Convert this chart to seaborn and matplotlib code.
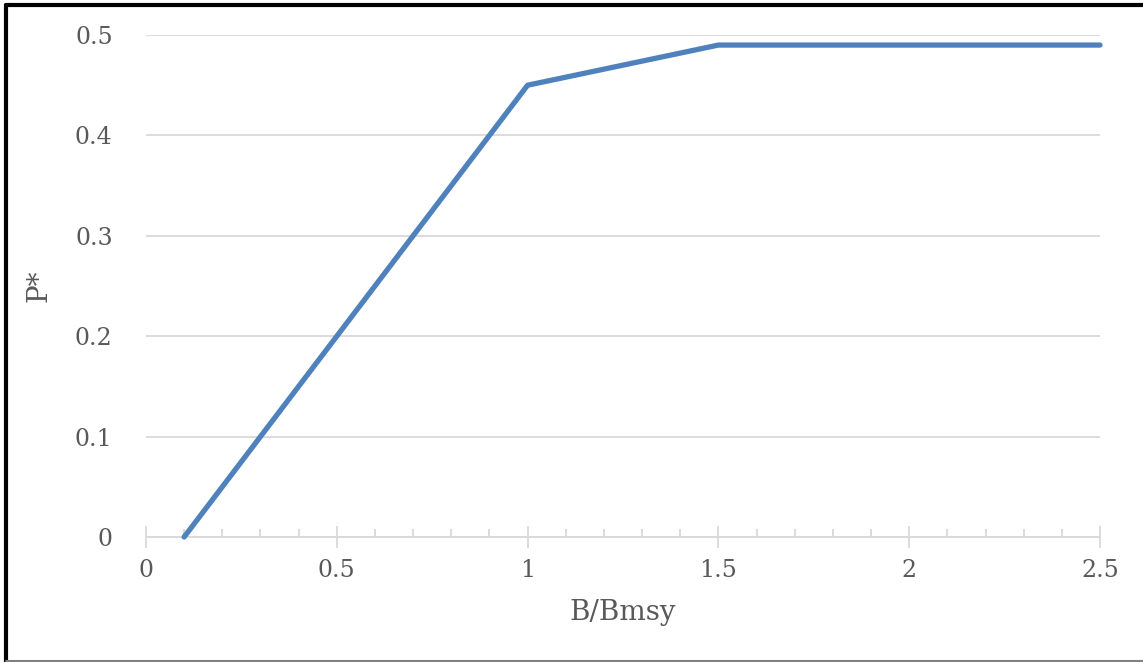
import matplotlib
matplotlib.use('Agg')
import matplotlib.pyplot as plt
import seaborn as sns
import pandas as pd
from matplotlib.ticker import MultipleLocator

b_ratio = [0.1, 1.0, 1.5, 2.5]
p_star = [0.0, 0.45, 0.49, 0.49]
y_ticks = [0, 0.1, 0.2, 0.3, 0.4, 0.5]
x_ticks = [0, 0.5, 1, 1.5, 2, 2.5]
x_labels = ['0', '0.5', '1', '1.5', '2', '2.5']
y_labels = ['0', '0.1', '0.2', '0.3', '0.4', '0.5']

df = pd.DataFrame({'B/Bmsy': b_ratio, 'P*': p_star})

sns.set_style('white')
plt.rcParams['font.family'] = ['DejaVu Serif']

grey_text = '#595959'
grid_col = '#d9d9d9'

fig = plt.figure(figsize=(11.43, 6.62), dpi=100)
ax = fig.add_axes([0.1277, 0.1888, 0.8347, 0.7583])

sns.lineplot(data=df, x='B/Bmsy', y='P*', color='#4f81bd', linewidth=3.8,
             solid_capstyle='round', clip_on=False, zorder=5, ax=ax)

ax.set_xlim(0, 2.5)
ax.set_ylim(0, 0.5)
ax.set_xticks(x_ticks)
ax.set_xticklabels(x_labels)
ax.set_yticks(y_ticks)
ax.set_yticklabels(y_labels)
ax.xaxis.set_minor_locator(MultipleLocator(0.1))

ax.yaxis.grid(True, color=grid_col, linewidth=1.3)
ax.set_axisbelow(True)
for s in ['top', 'right', 'left']:
    ax.spines[s].set_visible(False)
ax.spines['bottom'].set_color(grid_col)
ax.spines['bottom'].set_linewidth(1.3)

ax.tick_params(axis='x', which='both', bottom=True)
ax.tick_params(axis='x', which='major', direction='inout', length=16, width=1.3,
               color=grid_col, labelsize=17, labelcolor=grey_text, pad=8)
ax.tick_params(axis='x', which='minor', direction='in', length=6, width=1.3,
               color=grid_col)
ax.tick_params(axis='y', which='major', length=0, labelsize=17,
               labelcolor=grey_text, pad=24)

ax.set_xlabel('B/Bmsy', fontsize=20, color=grey_text, labelpad=12)
ax.set_ylabel('P*', fontsize=20, color=grey_text, labelpad=16)

# figure frame
fig.add_artist(plt.Line2D([0.005, 0.005], [0, 0.993], transform=fig.transFigure,
                          color='black', linewidth=3))
fig.add_artist(plt.Line2D([0.005, 1], [0.993, 0.993], transform=fig.transFigure,
                          color='black', linewidth=3))
fig.add_artist(plt.Line2D([0.005, 1], [0.0015, 0.0015], transform=fig.transFigure,
                          color='#808080', linewidth=1.5))

fig.savefig('out.png', dpi=100)
